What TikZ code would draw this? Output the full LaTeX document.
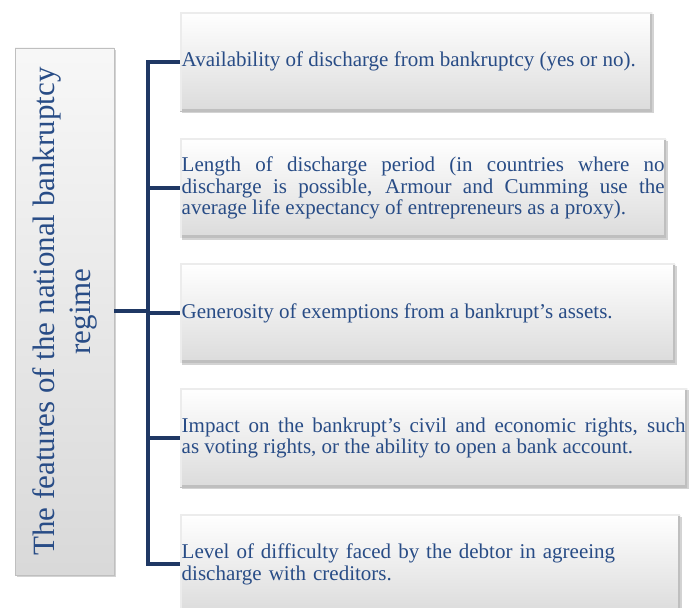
\documentclass[tikz,border=0pt]{standalone}
\usepackage{fontspec}
\setmainfont{Liberation Serif}
\usepackage{xcolor}
\usepackage{tikz}
\usetikzlibrary{positioning, shadows, calc}
\definecolor{navyline}{RGB}{31,56,100}
\definecolor{navytext}{RGB}{40,76,134}
\tikzset{
	feat_box/.style={rectangle, anchor=north west, top color=white, bottom color=gray!28, minimum height=99pt, text width=#1, inner xsep=1.5pt, inner ysep=0pt, font=\fontsize{21}{21.5}\selectfont, text=navytext, align=justify, drop shadow={shadow xshift=1.5pt, shadow yshift=-2pt, opacity=0.35},
		path picture={
			\draw[gray!50, line width=5pt] (path picture bounding box.north east) -- (path picture bounding box.south east) -- (path picture bounding box.south west);
			\draw[white!85!gray, line width=3pt] (path picture bounding box.south west) -- (path picture bounding box.north west) -- (path picture bounding box.north east);
		}},
	root_box/.style={rectangle, rotate=90, top color=gray!6, bottom color=gray!30, draw=gray!50, line width=0.8pt, minimum width=527pt, minimum height=99pt, inner sep=0pt, font=\fontsize{31}{36}\selectfont, text=navytext, align=center, drop shadow={shadow xshift=1.5pt, shadow yshift=-2pt, opacity=0.35}},
	trunk_conn/.style={draw=navyline, line width=4pt}
}

\begin{document}
\begin{tikzpicture}[x=1pt, y=1pt]
	\useasboundingbox (0,0) rectangle (689,608);
	\node[root_box] (regime) at (64.5,296.5) {The features of the national bankruptcy\\regime};
	\node[feat_box=469pt] (feat1) at (180,596) {Availability of discharge from bankruptcy (yes or no).};
	\node[feat_box=483pt, below=27pt of feat1.south west, anchor=north west] (feat2) {Length of discharge period (in countries where no\linebreak discharge is possible, Armour and Cumming use the\linebreak average life expectancy of entrepreneurs as a proxy).};
	\node[feat_box=492pt, below=26pt of feat2.south west, anchor=north west] (feat3) {Generosity of exemptions from a bankrupt’s assets.};
	\node[feat_box=504pt, below=25pt of feat3.south west, anchor=north west] (feat4) {Impact on the bankrupt’s civil and economic rights, such\linebreak as voting rights, or the ability to open a bank account.};
	\node[feat_box=497pt, below=27pt of feat4.south west, anchor=north west, align=left] (feat5) {Level of difficulty faced by the debtor in agreeing\\discharge with creditors.};
	\coordinate[right=34pt of regime.south] (hub);
	\draw[trunk_conn] (regime.south) -- (hub);
	\foreach \i in {1,...,5}
		\draw[trunk_conn] (hub) |- (feat\i.west);
\end{tikzpicture}
\end{document}
